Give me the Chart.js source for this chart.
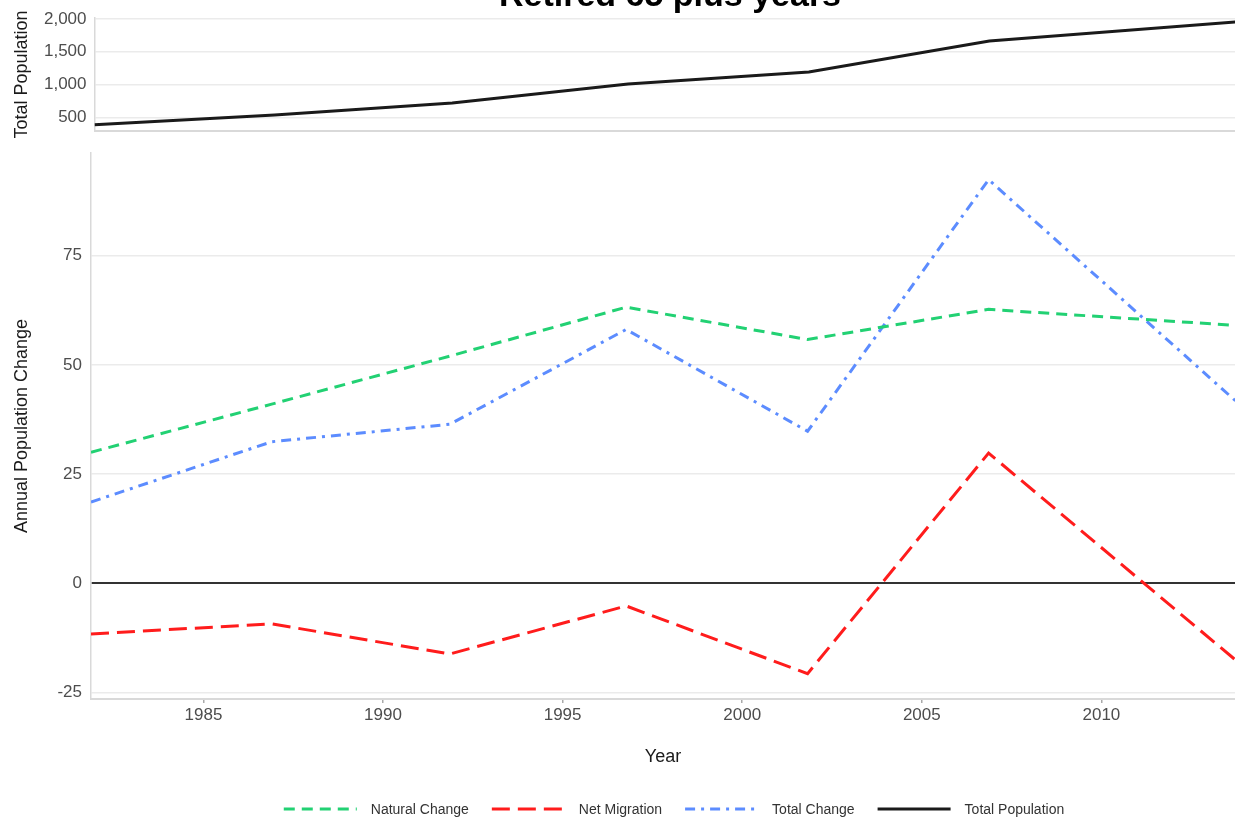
<!DOCTYPE html>
<html>
<head>
<meta charset="utf-8">
<script src="https://cdn.jsdelivr.net/npm/chart.js@4"></script>
<style>
  html, body { margin: 0; padding: 0; background: #fff; overflow: hidden; }
  #wrap { position: relative; width: 1235px; height: 818px; overflow: hidden; }
  #title {
    position: absolute; left: 0; top: -23px; width: 1340px;
    text-align: center; font: bold 34px "Liberation Sans", Arial, sans-serif;
    line-height: 34px; color: #000; z-index: 2;
  }
  #topChart { position: absolute; left: 0; top: 0; }
  #mainChart { position: absolute; left: 0; top: 145px; }
</style>
</head>
<body>
<div id="wrap">
  <div id="title">Retired 65 plus years</div>
  <canvas id="topChart" width="1235" height="140"></canvas>
  <canvas id="mainChart" width="1235" height="673"></canvas>
</div>
<script>
// years (slightly before the tick marks)
const years = [1981.87, 1986.9, 1991.86, 1996.77, 2001.82, 2006.86, 2014];
const totalPopulation = [387, 535, 718, 1008, 1190, 1663, 1966];
const naturalChange = [30.0, 41.0, 52.0, 63.2, 55.8, 62.7, 58.9];
const netMigration = [-11.6, -9.3, -16.2, -5.2, -20.7, 29.8, -19.4];
const totalChange = [18.6, 32.4, 36.4, 58.1, 34.8, 92.4, 39.8];

const popTicks = [500, 1000, 1500, 2000];
const changeTicks = [-25, 0, 25, 50, 75];
const yearTicks = [1985, 1990, 1995, 2000, 2005, 2010];

const FONT = '"Liberation Sans", Arial, sans-serif';
const GRID = '#ebebeb';
const AXIS = '#d9d9d9';

function pairs(vals) {
  return years.map((y, i) => ({ x: y, y: vals[i] }));
}

function fixTicks(list) {
  return (scale) => { scale.ticks = list.map(v => ({ value: v })); };
}

function noPad(size, key) {
  return (s) => {
    s[key] = size;
    s.paddingTop = 0; s.paddingBottom = 0; s.paddingLeft = 0; s.paddingRight = 0;
  };
}

const series = [
  { label: 'Natural Change', data: naturalChange, color: '#22d173', dash: [11, 7] },
  { label: 'Net Migration', data: netMigration, color: '#ff1c1c', dash: [18, 8] },
  { label: 'Total Change', data: totalChange, color: '#5c8cff', dash: [10, 6, 3, 6] }
];
const popStyle = { label: 'Total Population', color: '#1a1a1a', dash: [] };

const legendPlugin = {
  id: 'bottomLegend',
  afterDraw(chart) {
    const ctx = chart.ctx;
    const items = series.concat([popStyle]);
    ctx.save();
    ctx.font = '14px ' + FONT;
    const keyW = 73, gapText = 14, gapItem = 23;
    let total = 0;
    items.forEach((it, i) => {
      total += keyW + gapText + ctx.measureText(it.label).width + (i < items.length - 1 ? gapItem : 0);
    });
    let x = 674 - total / 2;
    const y = 664;
    items.forEach(it => {
      ctx.beginPath();
      ctx.setLineDash(it.dash);
      ctx.strokeStyle = it.color;
      ctx.lineWidth = 3;
      ctx.moveTo(x, y);
      ctx.lineTo(x + keyW, y);
      ctx.stroke();
      ctx.setLineDash([]);
      ctx.fillStyle = '#333';
      ctx.textBaseline = 'middle';
      ctx.textAlign = 'left';
      ctx.fillText(it.label, x + keyW + gapText, y + 1);
      x += keyW + gapText + ctx.measureText(it.label).width + gapItem;
    });
    ctx.restore();
  }
};

new Chart(document.getElementById('topChart'), {
  type: 'line',
  data: {
    datasets: [{
      label: popStyle.label,
      data: pairs(totalPopulation),
      borderColor: popStyle.color,
      borderWidth: 3,
      pointRadius: 0,
      tension: 0
    }]
  },
  options: {
    responsive: false,
    animation: false,
    devicePixelRatio: 1,
    layout: { padding: { top: 18, left: 0, right: 0, bottom: 0 } },
    plugins: { legend: { display: false }, tooltip: { enabled: false } },
    scales: {
      x: {
        type: 'linear', min: 1981.87, max: 2013.72,
        ticks: { display: false },
        grid: { display: false },
        border: { color: AXIS, width: 2 },
        afterFit: noPad(9, 'height')
      },
      y: {
        min: 291, max: 2015,
        afterBuildTicks: fixTicks(popTicks),
        ticks: { color: '#4d4d4d', font: { family: FONT, size: 17 }, padding: 8 },
        grid: { color: GRID, lineWidth: 1.5, drawTicks: false },
        border: { color: AXIS, width: 1.5 },
        title: { display: true, text: 'Total Population', color: '#1a1a1a', font: { family: FONT, size: 18 }, padding: { top: 11, bottom: 0 } },
        afterFit: noPad(94.5, 'width')
      }
    }
  }
});

new Chart(document.getElementById('mainChart'), {
  type: 'line',
  data: {
    datasets: series.map(s => ({
      label: s.label,
      data: pairs(s.data),
      borderColor: s.color,
      borderDash: s.dash,
      borderWidth: 3,
      pointRadius: 0,
      tension: 0
    }))
  },
  options: {
    responsive: false,
    animation: false,
    devicePixelRatio: 1,
    layout: { padding: { top: 8, left: 0, right: 0, bottom: 38 } },
    plugins: { legend: { display: false }, tooltip: { enabled: false } },
    scales: {
      x: {
        type: 'linear', min: 1981.87, max: 2013.72,
        afterBuildTicks: fixTicks(yearTicks),
        ticks: { color: '#4d4d4d', font: { family: FONT, size: 17 }, padding: 2, callback: v => String(v) },
        grid: { drawOnChartArea: false, drawTicks: true, tickLength: 4, color: '#aaaaaa', lineWidth: 1.5 },
        border: { color: AXIS, width: 2 },
        title: { display: true, text: 'Year', color: '#1a1a1a', font: { family: FONT, size: 18 }, padding: { top: 0, bottom: 12 } },
        afterFit: noPad(81, 'height')
      },
      y: {
        min: -26.5, max: 98.5,
        afterBuildTicks: fixTicks(changeTicks),
        ticks: { color: '#4d4d4d', font: { family: FONT, size: 17 }, padding: 9 },
        grid: {
          color: c => (c.tick && c.tick.value === 0 ? '#333333' : GRID),
          lineWidth: c => (c.tick && c.tick.value === 0 ? 2 : 1.5),
          drawTicks: false
        },
        border: { color: AXIS, width: 1.5 },
        title: { display: true, text: 'Annual Population Change', color: '#1a1a1a', font: { family: FONT, size: 18 }, padding: { top: 11, bottom: 0 } },
        afterFit: noPad(91, 'width')
      }
    }
  },
  plugins: [legendPlugin]
});
</script>
</body>
</html>
